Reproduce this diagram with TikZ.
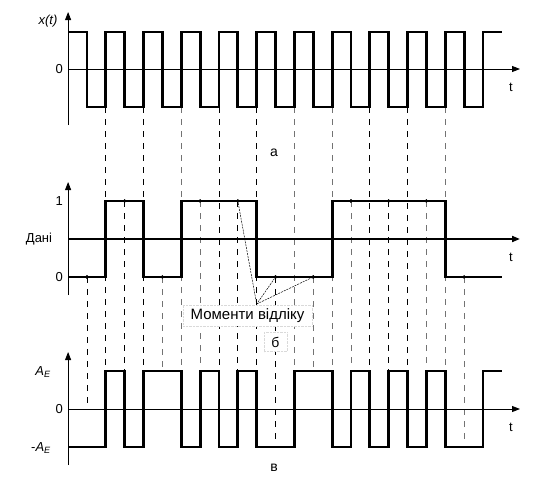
\documentclass[tikz,border=0pt]{standalone}
\usepackage{fontspec}
\setmainfont{Liberation Sans}
\usetikzlibrary{arrows.meta}
\begin{document}
\begin{tikzpicture}[x=1pt,y=-1pt,
  wave/.style={line width=2.8pt, line join=miter},
  axis/.style={line width=0.9pt,-{Triangle[length=8pt,width=6pt]}},
  thickaxis/.style={line width=1.8pt,-{Triangle[length=8pt,width=6pt]}},
  guide/.style={line width=0.9pt, dash pattern=on 6pt off 6pt},
  faint/.style={line width=0.8pt, black!55, dash pattern=on 6pt off 6pt},
  call/.style={line width=0.5pt, dash pattern=on 2pt off 1pt},
  lbl/.style={font=\fontsize{13}{15}\selectfont, inner sep=0pt},
  big/.style={font=\fontsize{14}{16}\selectfont, inner sep=0pt},
  dot/.style={circle, fill, inner sep=0pt, minimum size=3.6pt}]
\useasboundingbox (0,0) rectangle (534,479);
\fill[white] (0,0) rectangle (534,479);
% time grid
\foreach \k in {0,...,23} \coordinate (t\k) at ({68.1+18.857*\k},0);
% levels
\coordinate (aH) at (0,32);  \coordinate (aZ) at (0,69);  \coordinate (aL) at (0,107);
\coordinate (bH) at (0,201); \coordinate (bZ) at (0,239); \coordinate (bL) at (0,277);
\coordinate (vH) at (0,371); \coordinate (vZ) at (0,409); \coordinate (vL) at (0,447);
\coordinate (vtop) at (0,367); \coordinate (vlow) at (0,440);
% sample dots
\node[dot] (s1)  at (t1|-bL) {};
\node[dot] (s3)  at (t3|-bH) {};
\node[dot] (s5)  at (t5|-bL) {};
\node[dot] (s7)  at (t7|-bH) {};
\node[dot] (s9)  at (t9|-bH) {};
\node[dot] (s11) at (t11|-bL) {};
\node[dot] (s13) at (t13|-bL) {};
\node[dot] (s15) at (t15|-bH) {};
\node[dot] (s17) at (t17|-bH) {};
\node[dot] (s19) at (t19|-bH) {};
\node[dot] (s21) at (t21|-bL) {};
% bit boundary guides
\foreach \k in {2,4,8,10,16,18} \draw[guide] (t\k|-aL) -- (t\k|-vH);
\foreach \k in {6,12,14,20} \draw[faint] (t\k|-aL) -- (t\k|-vtop);
% sampling guides
\draw[guide] (s1.center) -- (t1|-vZ);
\draw[guide] (s3.center) -- (t3|-vH);
\draw[faint] (s5.center) -- (t5|-vtop);
\draw[faint] (s7.center) -- (t7|-vtop);
\draw[guide] (s9.center) -- (t9|-vH);
\draw[guide] (s11.center) -- (t11|-vlow);
\draw[faint] (s13.center) -- (t13|-vtop);
\draw[faint] (s15.center) -- (t15|-vtop);
\draw[guide] (s17.center) -- (t17|-vH);
\draw[faint] (s19.center) -- (t19|-vtop);
\draw[faint] (s21.center) -- (t21|-vlow);
% axes
\coordinate (aO) at (t0|-aZ); \coordinate (bO) at (t0|-bZ); \coordinate (vO) at (t0|-vZ);
\draw[axis] (t0|-0,125) -- (t0|-0,12);
\draw[axis] (aO) -- (520,69);
\draw[axis] (t0|-0,295) -- (t0|-0,182);
\draw[thickaxis] (bO) -- (520,239);
\draw[axis] (t0|-0,465) -- (t0|-0,352);
\draw[axis] (vO) -- (520,409);
% waveforms
\draw[wave] (t0|-aH) -| (t1|-aL) -| (t2|-aH) -| (t3|-aL) -| (t4|-aH) -| (t5|-aL) -| (t6|-aH)
  -| (t7|-aL) -| (t8|-aH) -| (t9|-aL) -| (t10|-aH) -| (t11|-aL) -| (t12|-aH) -| (t13|-aL)
  -| (t14|-aH) -| (t15|-aL) -| (t16|-aH) -| (t17|-aL) -| (t18|-aH) -| (t19|-aL) -| (t20|-aH)
  -| (t21|-aL) -| (t22|-aH) -- (t23|-aH);
\draw[wave] (t0|-bL) -| (t2|-bH) -| (t4|-bL) -| (t6|-bH) -| (t10|-bL) -| (t14|-bH) -| (t20|-bL) -- (t23|-bL);
\draw[wave] (t0|-vL) -| (t2|-vH) -| (t3|-vL) -| (t4|-vH) -| (t6|-vL) -| (t7|-vH) -| (t8|-vL)
  -| (t9|-vH) -| (t10|-vL) -| (t12|-vH) -| (t14|-vL) -| (t15|-vH) -| (t16|-vL) -| (t17|-vH)
  -| (t18|-vL) -| (t19|-vH) -| (t20|-vL) -| (t22|-vH) -- (t23|-vH);
% redraw dots on top
\foreach \s in {s1,s3,s5,s7,s9,s11,s13,s15,s17,s19,s21} \fill (\s) circle (1.8pt);
% callout
\node[fill=white, draw=black!15, densely dotted, minimum width=129pt, minimum height=21pt, inner sep=0pt,
  font=\fontsize{15}{17}\selectfont] (mom) at (247.5,315.5) {Моменти відліку};
\coordinate (ap) at (t10|-0,304);
\draw[call] (s9) -- (ap) -- (s11);
\draw[call] (ap) -- (s13);
% labels
\node[lbl, font=\fontsize{13}{15}\selectfont\itshape] (xt) at (48,21) {x(t)};
\node[lbl, anchor=east] (a0) at (63,69) {0};
\node[lbl] (at) at (511,87) {t};
\node[lbl, anchor=east] (b1) at (63,201) {1};
\node[lbl] (bd) at (39,239) {Дані};
\node[lbl, anchor=east] (b0) at (63,277) {0};
\node[lbl] (bt) at (511,257) {t};
\node[lbl] (vA) at (43,372) {\textit{A}\textsubscript{\textit{E}}};
\node[lbl, anchor=east] (v0) at (63,409) {0};
\node[lbl] (vm) at (41,448) {-\textit{A}\textsubscript{\textit{E}}};
\node[lbl] (vt) at (511,427) {t};
\node[big] (la) at (274,153) {а};
\node[big, fill=white, draw=black!15, densely dotted, minimum width=23pt, minimum height=19pt] (lb) at (275.5,342) {б};
\node[big] (lv) at (274,468) {в};
\end{tikzpicture}
\end{document}
